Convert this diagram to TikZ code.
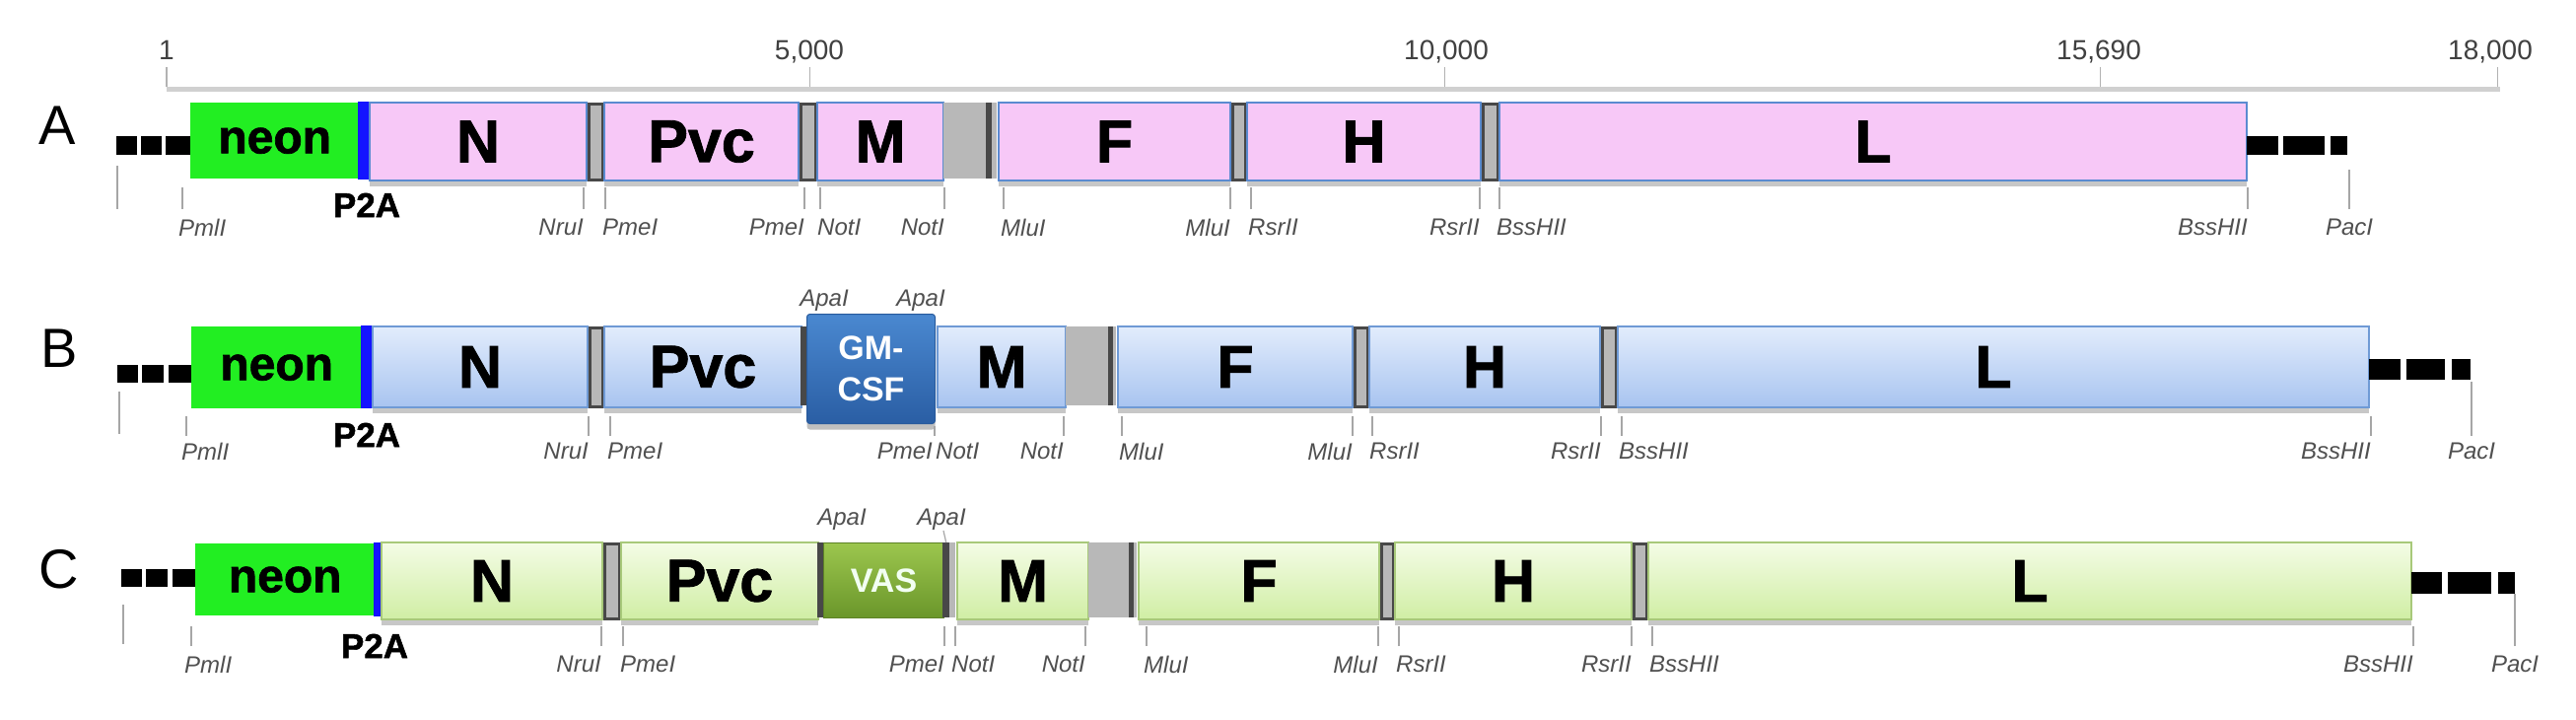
\documentclass[tikz,border=0pt]{standalone}
\usepackage{fontspec}
\setmainfont{Liberation Sans}
\newfontfamily\heavyfont{Liberation Sans}[BoldFeatures={FakeBold=1.4}]
\usetikzlibrary{shadows}
\definecolor{pinkf}{HTML}{F7C8F7}
\definecolor{pinkd}{HTML}{5B8BD0}
\definecolor{bluet}{HTML}{E2ECFC}
\definecolor{blueb}{HTML}{A8C4F0}
\definecolor{blued}{HTML}{6F9AD5}
\definecolor{greent}{HTML}{F4FCE6}
\definecolor{greenb}{HTML}{D0EEA4}
\definecolor{greend}{HTML}{A8C97A}
\definecolor{neonc}{HTML}{22EE22}
\definecolor{p2ac}{HTML}{1414FF}
\definecolor{sepg}{HTML}{B8B8B8}
\definecolor{sepd}{HTML}{484848}
\definecolor{gmt}{HTML}{4A88D0}
\definecolor{gmb}{HTML}{2A5EA4}
\definecolor{gmd}{HTML}{285A9C}
\definecolor{vast}{HTML}{9CC64E}
\definecolor{vasb}{HTML}{6A962A}
\definecolor{vasd}{HTML}{5E8226}
\definecolor{sitec}{HTML}{505050}
\definecolor{rulec}{HTML}{D0D0D0}
\newcommand\genef{\fontsize{61}{61}\heavyfont\bfseries}
\newcommand\neonf{\fontsize{48}{48}\heavyfont\bfseries}
\newcommand\ptaf{\fontsize{35}{35}\heavyfont\bfseries}
\newcommand\sitef{\fontsize{24}{24}\selectfont\itshape}
\newcommand\rulef{\fontsize{28}{28}\selectfont}
\newcommand\rowf{\fontsize{56}{56}\selectfont}
\newcommand\insf{\fontsize{34}{42}\selectfont\bfseries}
% box: style, name, x1, x2, ytop, ybot, text
\newcommand\gbox[7]{\pgfmathsetmacro\gw{#4-#3}\pgfmathsetmacro\gh{#6-#5}%
  \node[#1,minimum width=\gw pt,minimum height=\gh pt,anchor=north west] (#2) at (#3,#5) {#7};}
% site label: name, anchor, x, ytop, text
\newcommand\site[5]{\node[site,anchor=north #2] (#1) at (#3,#4) {#5};}
\tikzset{
  gene/.style={inner sep=0pt, font=\genef, text=black, line width=2pt,
    drop shadow={shadow xshift=0pt, shadow yshift=-6pt, opacity=0.22, fill=black}},
  geneA/.style={gene, draw=pinkd, fill=pinkf},
  geneB/.style={gene, draw=blued, top color=bluet, bottom color=blueb},
  geneC/.style={gene, draw=greend, top color=greent, bottom color=greenb},
  neonbox/.style={inner sep=0pt, fill=neonc, font=\neonf, text=black},
  p2abar/.style={inner sep=0pt, fill=p2ac},
  sepbox/.style={inner sep=0pt, fill=sepg, draw=sepd, line width=2.5pt},
  grayblk/.style={inner sep=0pt, fill=sepg},
  darkbar/.style={inner sep=0pt, fill=sepd},
  dotbox/.style={inner sep=0pt, fill=black},
  gmbox/.style={inner sep=0pt, rounded corners=3pt, top color=gmt, bottom color=gmb, draw=gmd, line width=1pt,
    font=\insf, text=white, align=center,
    drop shadow={shadow xshift=0pt, shadow yshift=-6pt, opacity=0.25, fill=black}},
  vasbox/.style={inner sep=0pt, top color=vast, bottom color=vasb, draw=vasd, line width=1pt,
    font=\insf, text=white!95!green},
  site/.style={inner sep=0pt, font=\sitef, text=sitec},
  sitetick/.style={draw=gray!70, line width=1.2pt},
  p2alabel/.style={inner sep=0pt, font=\ptaf, text=black},
  rowlabel/.style={inner sep=0pt, font=\rowf, text=black},
  rulelabel/.style={inner sep=0pt, font=\rulef, text=black!75, anchor=base},
  ruletick/.style={draw=gray!60, line width=1.2pt}
}
\begin{document}
\begin{tikzpicture}[x=1pt,y=-1pt]
\useasboundingbox[fill=white] (0,0) rectangle (2613,729);

% ---------------- ruler ----------------
\gbox{inner sep=0pt,fill=rulec}{ruler}{169}{2536}{88}{93}{}
\node[rulelabel] (r1) at (169,60) {1};
\node[rulelabel] (r5) at (821,60) {5,000};
\node[rulelabel] (r10) at (1467,60) {10,000};
\node[rulelabel] (r15) at (2129,60) {15,690};
\node[rulelabel] (r18) at (2526,60) {18,000};
\draw[ruletick] (ruler.north west) -- ++(0,-20);
\draw[ruletick] ([xshift=-1715pt]ruler.north east) -- ++(0,-20);
\draw[ruletick] ([xshift=-1071pt]ruler.north east) -- ++(0,-20);
\draw[ruletick] ([xshift=-406pt]ruler.north east) -- ++(0,-20);
\draw[ruletick] ([xshift=-3pt]ruler.north east) -- ++(0,-20);

% ---------------- row A ----------------
\node[rowlabel] (rowA) at (58,127) {A};
\gbox{dotbox}{aD1}{118}{139}{138}{157}{}
\gbox{dotbox}{aD2}{143}{164}{138}{157}{}
\gbox{dotbox}{aD3}{168}{194}{138}{157}{}
\gbox{neonbox}{aNeon}{193}{364}{104}{181}{neon}
\gbox{p2abar}{aP2A}{363}{374}{103}{182}{}
\gbox{geneA}{aN}{374}{594}{103}{182}{N}
\gbox{sepbox}{aS1}{596}{610}{104}{181}{}
\gbox{geneA}{aPvc}{612}{809}{103}{182}{Pvc}
\gbox{sepbox}{aS2}{811}{826}{104}{181}{}
\gbox{geneA}{aM}{828}{956}{103}{182}{M}
\gbox{grayblk}{aG}{957}{1011}{104}{181}{}
\gbox{darkbar}{aGd}{1000}{1006}{104}{181}{}
\gbox{geneA}{aF}{1012}{1247}{103}{182}{F}
\gbox{sepbox}{aS3}{1249}{1262}{104}{181}{}
\gbox{geneA}{aH}{1264}{1501}{103}{182}{H}
\gbox{sepbox}{aS4}{1503}{1518}{104}{181}{}
\gbox{geneA}{aL}{1520}{2278}{103}{182}{L}
\gbox{dotbox}{aE1}{2279}{2311}{138}{157}{}
\gbox{dotbox}{aE2}{2316}{2358}{138}{157}{}
\gbox{dotbox}{aE3}{2364}{2381}{138}{157}{}
\node[p2alabel] (aP2Alab) at (372,208) {P2A};
\coordinate (aT0) at (119,168);
\draw[sitetick] (aT0) -- ++(0,44);
\site{aPml}{west}{181}{222}{PmlI}
\site{aNru}{east}{592}{222}{NruI}
\site{aPme1}{west}{611}{222}{PmeI}
\site{aPme2}{east}{816}{222}{PmeI}
\site{aNot1}{west}{829}{222}{NotI}
\site{aNot2}{east}{958}{222}{NotI}
\site{aMlu1}{west}{1015}{222}{MluI}
\site{aMlu2}{east}{1248}{222}{MluI}
\site{aRsr1}{west}{1266}{222}{RsrII}
\site{aRsr2}{east}{1501}{222}{RsrII}
\site{aBss1}{west}{1518}{222}{BssHII}
\site{aBss2}{east}{2280}{222}{BssHII}
\site{aPac}{}{2383}{222}{PacI}
\foreach \n/\a/\dx in {aPml/west/4, aNru/east/0, aPme1/west/3, aPme2/east/0, aNot1/west/3, aNot2/east/0,
  aMlu1/west/3, aMlu2/east/0, aRsr1/west/3, aRsr2/east/0, aBss1/west/3, aBss2/east/0}
  \draw[sitetick] ([xshift=\dx pt,yshift=10pt]\n.north \a) -- ++(0,-22);
\draw[sitetick] ([yshift=10pt]aPac.north) -- ++(0,-40);

% ---------------- row B ----------------
\node[rowlabel] (rowB) at (60,353) {B};
\gbox{dotbox}{bD1}{119}{140}{370}{388}{}
\gbox{dotbox}{bD2}{144}{166}{370}{388}{}
\gbox{dotbox}{bD3}{171}{195}{370}{388}{}
\gbox{neonbox}{bNeon}{194}{367}{331}{414}{neon}
\gbox{p2abar}{bP2A}{366}{377}{330}{414}{}
\gbox{geneB}{bN}{377}{595}{330}{412}{N}
\gbox{sepbox}{bS1}{597}{610}{331}{411}{}
\gbox{geneB}{bPvc}{612}{812}{330}{412}{Pvc}
\gbox{darkbar}{bS2}{812}{818}{331}{411}{}
\gbox{geneB}{bM}{950}{1080}{330}{412}{M}
\gbox{grayblk}{bG}{1081}{1132}{331}{411}{}
\gbox{darkbar}{bGd}{1124}{1129}{331}{411}{}
\gbox{geneB}{bF}{1133}{1371}{330}{412}{F}
\gbox{sepbox}{bS3}{1373}{1386}{331}{411}{}
\gbox{geneB}{bH}{1388}{1622}{330}{412}{H}
\gbox{sepbox}{bS4}{1624}{1638}{331}{411}{}
\gbox{geneB}{bL}{1640}{2402}{330}{412}{L}
\gbox{dotbox}{bE1}{2403}{2435}{364}{385}{}
\gbox{dotbox}{bE2}{2441}{2480}{364}{385}{}
\gbox{dotbox}{bE3}{2487}{2506}{364}{385}{}
\gbox{gmbox}{bGM}{818}{948}{318}{429}{GM-\\CSF}
\node[p2alabel] (bP2Alab) at (372,441) {P2A};
\coordinate (bT0) at (121,397);
\draw[sitetick] (bT0) -- ++(0,43);
\node[site,anchor=south] (bApa1) at (836,316) {ApaI};
\node[site,anchor=south] (bApa2) at (934,316) {ApaI};
\site{bPml}{west}{184}{449}{PmlI}
\site{bNru}{east}{597}{449}{NruI}
\site{bPme1}{west}{616}{449}{PmeI}
\site{bPme2}{east}{946}{449}{PmeI}
\site{bNot1}{west}{949}{449}{NotI}
\site{bNot2}{east}{1079}{449}{NotI}
\site{bMlu1}{west}{1135}{449}{MluI}
\site{bMlu2}{east}{1372}{449}{MluI}
\site{bRsr1}{west}{1389}{449}{RsrII}
\site{bRsr2}{east}{1624}{449}{RsrII}
\site{bBss1}{west}{1642}{449}{BssHII}
\site{bBss2}{east}{2405}{449}{BssHII}
\site{bPac}{}{2507}{449}{PacI}
\foreach \n/\a/\dx in {bPml/west/5, bNru/east/0, bPme1/west/3, bNot2/east/0,
  bMlu1/west/3, bMlu2/east/0, bRsr1/west/3, bRsr2/east/0, bBss1/west/3, bBss2/east/0}
  \draw[sitetick] ([xshift=\dx pt,yshift=7pt]\n.north \a) -- ++(0,-20);
\draw[sitetick] ([xshift=2pt,yshift=7pt]bPme2.north east) -- ++(0,-10);
\draw[sitetick] ([yshift=7pt]bPac.north) -- ++(0,-55);

% ---------------- row C ----------------
\node[rowlabel] (rowC) at (60,577) {C};
\gbox{dotbox}{cD1}{123}{144}{577}{595}{}
\gbox{dotbox}{cD2}{148}{170}{577}{595}{}
\gbox{dotbox}{cD3}{175}{199}{577}{595}{}
\gbox{neonbox}{cNeon}{198}{380}{551}{624}{neon}
\gbox{p2abar}{cP2A}{379}{386}{550}{625}{}
\gbox{geneC}{cN}{386}{610}{549}{627}{N}
\gbox{sepbox}{cS1}{612}{627}{550}{626}{}
\gbox{geneC}{cPvc}{629}{829}{549}{627}{Pvc}
\gbox{darkbar}{cS2}{829}{836}{550}{626}{}
\gbox{vasbox}{cVAS}{835}{957}{550}{626}{VAS}
\gbox{darkbar}{cS3}{956}{963}{550}{626}{}
\gbox{grayblk}{cS3b}{963}{969}{550}{626}{}
\gbox{geneC}{cM}{970}{1103}{549}{627}{M}
\gbox{grayblk}{cG}{1104}{1153}{550}{626}{}
\gbox{darkbar}{cGd}{1145}{1150}{550}{626}{}
\gbox{geneC}{cF}{1154}{1398}{549}{627}{F}
\gbox{sepbox}{cS4}{1400}{1412}{550}{626}{}
\gbox{geneC}{cH}{1414}{1654}{549}{627}{H}
\gbox{sepbox}{cS5}{1656}{1669}{550}{626}{}
\gbox{geneC}{cL}{1671}{2445}{549}{627}{L}
\gbox{dotbox}{cE1}{2446}{2477}{580}{602}{}
\gbox{dotbox}{cE2}{2483}{2527}{580}{602}{}
\gbox{dotbox}{cE3}{2534}{2551}{580}{602}{}
\node[p2alabel] (cP2Alab) at (380,655) {P2A};
\coordinate (cT0) at (125,613);
\draw[sitetick] (cT0) -- ++(0,40);
\node[site,anchor=south] (cApa1) at (854,538) {ApaI};
\node[site,anchor=south] (cApa2) at (955,538) {ApaI};
\draw[sitetick] ([xshift=2pt]cApa2.south) -- (cS3.north);
\site{cPml}{west}{187}{665}{PmlI}
\site{cNru}{east}{610}{665}{NruI}
\site{cPme1}{west}{629}{665}{PmeI}
\site{cPme2}{east}{958}{665}{PmeI}
\site{cNot1}{west}{965}{665}{NotI}
\site{cNot2}{east}{1101}{665}{NotI}
\site{cMlu1}{west}{1160}{665}{MluI}
\site{cMlu2}{east}{1398}{665}{MluI}
\site{cRsr1}{west}{1416}{665}{RsrII}
\site{cRsr2}{east}{1655}{665}{RsrII}
\site{cBss1}{west}{1673}{665}{BssHII}
\site{cBss2}{east}{2448}{665}{BssHII}
\site{cPac}{}{2551}{665}{PacI}
\foreach \n/\a/\dx in {cPml/west/7, cNru/east/0, cPme1/west/3, cPme2/east/0, cNot1/west/4, cNot2/east/0,
  cMlu1/west/3, cMlu2/east/0, cRsr1/west/3, cRsr2/east/0, cBss1/west/3, cBss2/east/0}
  \draw[sitetick] ([xshift=\dx pt,yshift=10pt]\n.north \a) -- ++(0,-20);
\draw[sitetick] ([yshift=10pt]cPac.north) -- ++(0,-53);
\end{tikzpicture}
\end{document}
